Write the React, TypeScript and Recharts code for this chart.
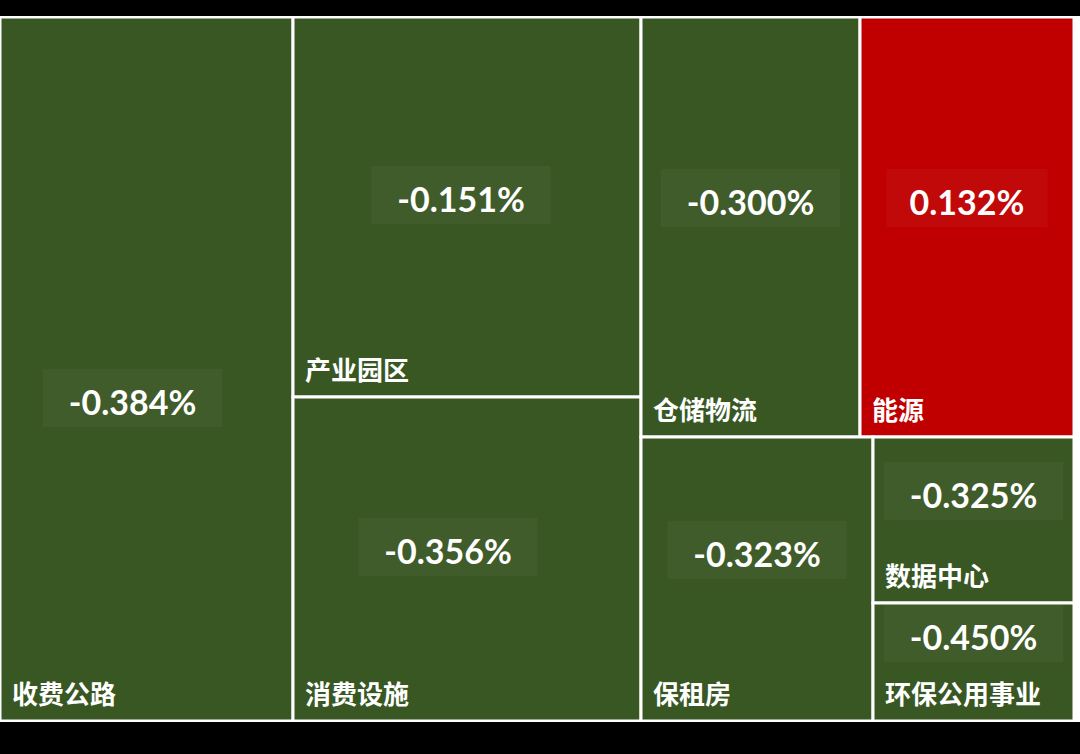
import React from "react";
import { Treemap } from "recharts";

// sector names, size weights (share of the map, %) and daily change (%)
const sectors = ["收费公路", "产业园区", "消费设施", "仓储物流", "能源", "保租房", "数据中心", "环保公用事业"];
const weights = [27.281, 17.49, 14.912, 12.165, 11.887, 8.714, 4.413, 3.137];
const changes = [-0.384, -0.151, -0.356, -0.3, 0.132, -0.323, -0.325, -0.45];

const GREEN = "#385723";
const RED = "#C00000";

// small hand nudges for value labels that sit off-centre in the original
const labelNudge: Record<string, { dx: number; dy: number }> = {
  收费公路: { dx: -14, dy: 58 },
  产业园区: { dx: -6, dy: 17 },
  消费设施: { dx: -19, dy: 17 },
};

const leaf = (i: number) => ({ name: sectors[i], size: weights[i], change: changes[i] });

// grouped so the squarified layout splits the same way as the source picture
const treeData = [
  leaf(0),
  leaf(1),
  leaf(2),
  {
    name: "rest",
    children: [{ name: "top", children: [leaf(3), leaf(4)] }, leaf(5), leaf(6), leaf(7)],
  },
];

function CellContent(props: any) {
  const { x, y, width, height, name, change } = props;
  if (change === undefined || width <= 0 || height <= 0) return <g />;

  const label = `${change.toFixed(3)}%`;
  const nudge = labelNudge[name] || { dx: 0, dy: 0 };
  const cx = x + width / 2 + nudge.dx;
  const cy = y + (height - 52) / 2 + nudge.dy;
  const boxW = label.length * 18.5 + 50;

  return (
    <g>
      <rect x={x} y={y} width={width} height={height} fill={change >= 0 ? RED : GREEN} stroke="#fff" strokeWidth={3} />
      <rect x={cx - boxW / 2} y={cy - 32} width={boxW} height={58} fill="#fff" fillOpacity={0.035} />
      <text
        x={cx}
        y={cy}
        textAnchor="middle"
        dominantBaseline="central"
        fill="#fff"
        fontFamily="Lato, 'Open Sans', sans-serif"
        fontWeight={700}
        fontSize={34}
      >
        {label}
      </text>
      <text
        x={x + 12}
        y={y + height - 29}
        dominantBaseline="central"
        fill="#fff"
        fontFamily="'Noto Sans CJK SC', sans-serif"
        fontWeight={700}
        fontSize={26}
      >
        {name}
      </text>
    </g>
  );
}

export default function App() {
  return (
    <div style={{ width: 1080, height: 754, background: "#000", position: "relative", overflow: "hidden" }}>
      <style>{`body{margin:0;background:#000}`}</style>
      <div style={{ position: "absolute", left: 0, top: 16, width: 1080, height: 706, background: "#fff" }} />
      <div style={{ position: "absolute", left: 0, top: 17 }}>
        <Treemap
          width={1074}
          height={704}
          data={treeData}
          dataKey="size"
          nameKey="name"
          aspectRatio={0.7}
          isAnimationActive={false}
          content={(p: any) => <CellContent {...p} />}
        />
      </div>
    </div>
  );
}
